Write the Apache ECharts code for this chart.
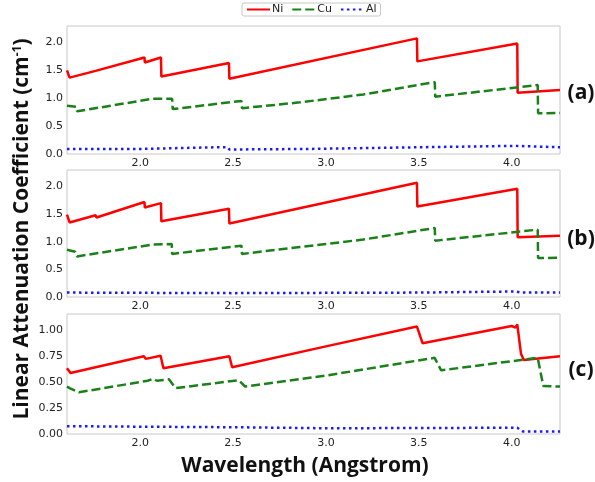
<!DOCTYPE html>
<html>
<head>
<meta charset="utf-8">
<script src="https://cdn.jsdelivr.net/npm/echarts@6/dist/echarts.min.js"></script>
<style>
  html, body { margin: 0; padding: 0; background: #fff; }
  #chart { width: 595px; height: 482px; }
</style>
</head>
<body>
<div id="chart"></div>
<script>
// wavelength (Angstrom), attenuation (cm-1)
var xTicks = [2.0, 2.5, 3.0, 3.5, 4.0];
var yTicksAB = [0.0, 0.5, 1.0, 1.5, 2.0];
var yTicksC = [0.0, 0.25, 0.5, 0.75, 1.0];
var panelNames = ['(a)', '(b)', '(c)'];

var niA = [[1.606,1.49],[1.615,1.49],[1.62,1.36],[1.76,1.48],[1.765,1.45],[2.023,1.72],[2.025,1.63],
  [2.112,1.72],[2.114,1.38],[2.478,1.62],[2.48,1.34],[3.49,2.06],[3.492,1.65],[4.03,1.97],[4.032,1.09],[4.26,1.14]];
var cuA = [[1.606,0.86],[1.655,0.84],[1.66,0.76],[2.07,0.985],[2.08,0.955],[2.172,0.985],[2.175,0.80],
  [2.545,0.945],[2.548,0.815],[2.86,0.92],[3.2,1.06],[3.586,1.28],[3.588,1.02],[4.14,1.23],[4.142,0.725],[4.26,0.73]];
var alA = [[1.606,0.09],[2.0,0.09],[2.41,0.12],[2.47,0.12],[2.48,0.08],[2.9,0.09],[3.5,0.12],[4.02,0.145],
  [4.03,0.12],[4.26,0.12]];

var niB = [[1.606,1.49],[1.615,1.49],[1.62,1.35],[1.76,1.48],[1.765,1.44],[2.023,1.72],[2.025,1.62],
  [2.112,1.70],[2.114,1.37],[2.478,1.60],[2.48,1.33],[3.49,2.07],[3.492,1.64],[4.03,1.96],[4.032,1.08],[4.26,1.11]];
var cuB = [[1.606,0.855],[1.65,0.82],[1.66,0.735],[2.07,0.95],[2.17,0.96],[2.172,0.78],[2.545,0.93],
  [2.548,0.78],[2.86,0.905],[3.2,1.04],[3.586,1.25],[3.588,1.02],[4.14,1.22],[4.142,0.705],[4.26,0.71]];
var alB = [[1.606,0.08],[2.5,0.07],[3.5,0.08],[4.02,0.1],[4.05,0.08],[4.26,0.08]];

var niC = [[1.606,0.63],[1.615,0.63],[1.625,0.585],[1.76,0.64],[1.765,0.625],[2.02,0.745],[2.03,0.72],
  [2.11,0.75],[2.125,0.63],[2.48,0.745],[2.495,0.64],[3.0,0.84],[3.49,1.03],[3.52,0.87],[4.0,1.035],
  [4.02,1.02],[4.03,1.05],[4.036,1.04],[4.05,0.77],[4.065,0.71],[4.26,0.745]];
var cuC = [[1.606,0.455],[1.62,0.44],[1.63,0.43],[1.67,0.40],[2.04,0.51],[2.07,0.53],[2.09,0.51],
  [2.155,0.525],[2.19,0.44],[2.53,0.515],[2.565,0.455],[3.0,0.56],[3.55,0.72],[3.585,0.73],[3.62,0.61],
  [4.14,0.73],[4.17,0.46],[4.26,0.455]];
var alC = [[1.606,0.075],[2.0,0.07],[2.5,0.065],[3.0,0.055],[4.03,0.06],[4.06,0.025],[4.26,0.025]];

var panels = [
  {ni: niA, cu: cuA, al: alA, ymax: 2.28, ticks: yTicksAB, dec: 1},
  {ni: niB, cu: cuB, al: alB, ymax: 2.30, ticks: yTicksAB, dec: 1},
  {ni: niC, cu: cuC, al: alC, ymax: 1.15, ticks: yTicksC, dec: 2}
];
var gridBoxes = [{top: 26, height: 128}, {top: 170, height: 127}, {top: 314, height: 120}];

var labelStyle = {fontFamily: 'DejaVu Sans', fontSize: 11, color: '#222'};
var grids = [], xAxes = [], yAxes = [], series = [];

panels.forEach(function (p, i) {
  grids.push({left: 67, width: 493, top: gridBoxes[i].top, height: gridBoxes[i].height,
    show: true, borderColor: '#c8c8c8', borderWidth: 1, backgroundColor: 'transparent'});
  xAxes.push({type: 'value', gridIndex: i, min: 1.606, max: 4.26,
    axisLine: {show: false}, axisTick: {show: false}, splitLine: {show: false},
    axisLabel: Object.assign({customValues: xTicks, margin: 4,
      formatter: function (v) { return v.toFixed(1); }}, labelStyle)});
  yAxes.push({type: 'value', gridIndex: i, min: 0, max: p.ymax,
    axisLine: {show: false}, axisTick: {show: false}, splitLine: {show: false},
    axisLabel: Object.assign({customValues: p.ticks, margin: 4,
      formatter: function (v) { return v.toFixed(p.dec); }}, labelStyle)});
  series.push({name: 'Ni', type: 'line', xAxisIndex: i, yAxisIndex: i, data: p.ni,
    symbol: 'none', color: '#ff0000', lineStyle: {width: 2.5, color: '#ff0000'}});
  series.push({name: 'Cu', type: 'line', xAxisIndex: i, yAxisIndex: i, data: p.cu,
    symbol: 'none', color: '#1a801a', lineStyle: {width: 2.5, color: '#1a801a', type: [9, 4]}});
  series.push({name: 'Al', type: 'line', xAxisIndex: i, yAxisIndex: i, data: p.al,
    symbol: 'none', color: '#1a1aff', lineStyle: {width: 2.5, color: '#1a1aff', type: [2.5, 3.5]}});
});

var graphics = [{
  type: 'text', x: 22, y: 229, rotation: Math.PI / 2,
  style: {
    text: 'Linear Attenuation Coefficient (cm{sup|-1})',
    fontFamily: 'Open Sans', fontWeight: 'bold', fontSize: 21, fill: '#111',
    textAlign: 'center', textVerticalAlign: 'middle',
    rich: {sup: {fontFamily: 'Open Sans', fontWeight: 'bold', fontSize: 12, fill: '#111',
      verticalAlign: 'top', padding: [0, 0, 8, 0]}}
  }
}, {
  type: 'text', x: 305, y: 466,
  style: {text: 'Wavelength (Angstrom)', fontFamily: 'Open Sans', fontWeight: 'bold',
    fontSize: 21, fill: '#111', textAlign: 'center', textVerticalAlign: 'middle'}
}];
[93, 239, 370].forEach(function (yy, i) {
  graphics.push({type: 'text', x: 581, y: yy,
    style: {text: panelNames[i], fontFamily: 'Open Sans', fontWeight: 'bold', fontSize: 21,
      fill: '#111', textAlign: 'center', textVerticalAlign: 'middle'}});
});

var chart = echarts.init(document.getElementById('chart'), null, {renderer: 'canvas'});
chart.setOption({
  animation: false,
  backgroundColor: '#fff',
  legend: {
    data: ['Ni', 'Cu', 'Al'], top: 3, left: 242,
    itemWidth: 23, itemHeight: 10, itemGap: 8,
    itemStyle: {opacity: 0},
    borderColor: '#c8c8c8', borderWidth: 1, borderRadius: 2, padding: [1, 4],
    textStyle: {fontFamily: 'DejaVu Sans', fontSize: 11, color: '#222', padding: [0, 0, 0, -3]}
  },
  grid: grids,
  xAxis: xAxes,
  yAxis: yAxes,
  series: series,
  graphic: graphics
});
</script>
</body>
</html>
